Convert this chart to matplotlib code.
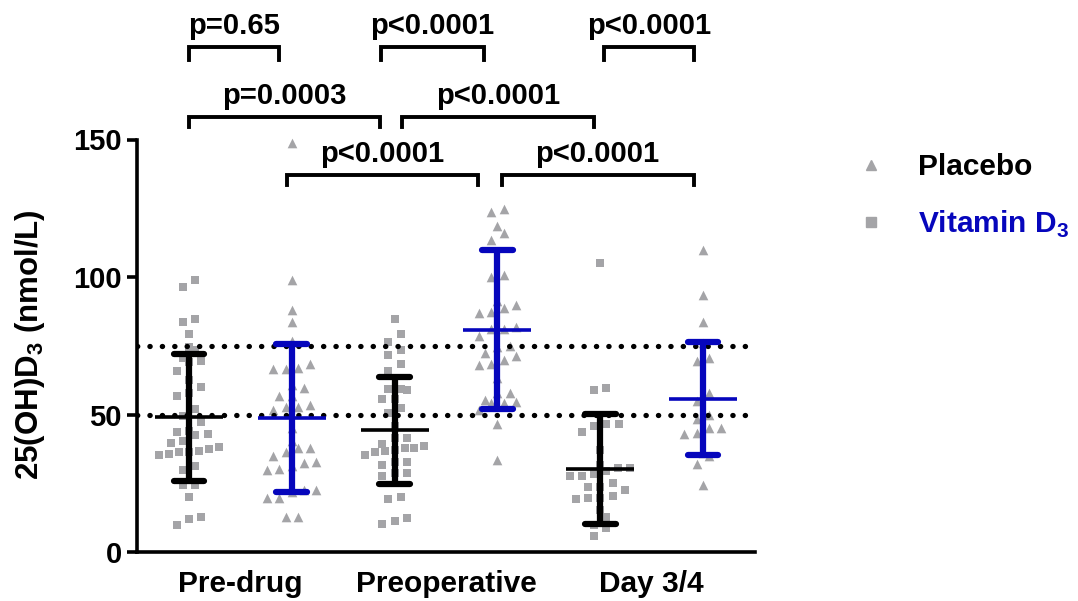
import numpy as np
import matplotlib
matplotlib.use("Agg")
import matplotlib.pyplot as plt
from matplotlib.lines import Line2D

plt.rcParams['font.family'] = ['Liberation Sans', 'DejaVu Sans']
plt.rcParams['font.weight'] = 'bold'
plt.rcParams['mathtext.fontset'] = 'custom'
plt.rcParams['mathtext.rm'] = 'Liberation Sans:bold'
plt.rcParams['mathtext.bf'] = 'Liberation Sans:bold'

# ---------------- data ----------------
timepoints = ["Pre-drug", "Preoperative", "Day 3/4"]
series_names = ["Placebo", r"Vitamin D$_\mathbf{3}$"]

predrug_placebo = [98.9, 96.2, 83.7, 84.9, 79.2, 74.7, 70.4, 69.1, 69.5, 73.4, 66.0,
                   62.4, 60.0, 56.9, 57.7, 52.1, 49.5, 47.2, 43.9, 43.0, 40.3, 39.7,
                   42.4, 43.7, 38.2, 36.9, 36.2, 35.8, 35.1, 36.2, 37.5, 31.1, 29.9,
                   24.5, 24.5, 20.0, 12.9, 9.9, 11.9]
predrug_vitd = [148.9, 99.0, 88.0, 83.8, 76.8, 66.8, 66.4, 66.4, 68.2, 60.6, 59.5,
                56.7, 56.7, 53.6, 52.7, 51.8, 52.7, 45.0, 40.3, 37.8, 35.0, 36.2,
                37.8, 32.4, 31.1, 32.6, 30.2, 29.9, 22.6, 22.6, 22.0, 19.8, 19.8,
                12.9, 12.9]
preop_placebo = [84.7, 79.4, 76.4, 73.5, 71.5, 68.5, 65.8, 59.1, 58.9, 59.1, 55.5,
                 55.5, 52.4, 50.4, 46.0, 41.5, 41.5, 39.1, 37.8, 37.2, 36.2, 36.6,
                 37.8, 38.4, 35.4, 32.6, 32.6, 31.5, 28.9, 28.9, 27.5, 20.0, 19.2,
                 12.3, 10.2, 11.1]
preop_vitd = [124.8, 123.6, 118.7, 116.0, 113.3, 100.1, 100.8, 91.1, 89.8, 87.1,
              86.9, 88.7, 81.9, 81.0, 81.0, 78.6, 74.9, 74.6, 72.2, 71.3, 69.7,
              67.9, 68.2, 63.4, 57.9, 55.2, 54.3, 57.9, 54.3, 54.6, 51.5, 46.6, 33.6]
day34_placebo = [105.0, 59.7, 58.8, 46.4, 43.5, 45.7, 46.4, 37.2, 31.8, 30.5, 28.5,
                 29.3, 30.5, 27.8, 27.8, 25.1, 23.8, 22.4, 23.5, 19.6, 19.2, 19.6,
                 20.5, 15.1, 12.9, 9.9, 8.6, 5.9]
day34_vitd = [109.9, 93.4, 83.7, 76.0, 70.7, 69.5, 57.7, 54.9, 50.0, 48.2, 45.1,
              43.3, 43.0, 45.1, 34.8, 36.0, 32.0, 24.2]

groups = [predrug_placebo, predrug_vitd, preop_placebo, preop_vitd,
          day34_placebo, day34_vitd]
group_means = [49.0, 48.6, 44.3, 80.8, 30.3, 55.8]
group_sds = [23.0, 26.9, 19.5, 28.9, 20.0, 20.5]
reference_lines = [50, 75]
yticks = [0, 50, 100, 150]

p_labels = ["p=0.65", "p<0.0001", "p<0.0001", "p=0.0003", "p<0.0001",
            "p<0.0001", "p<0.0001"]

# ---------------- styles ----------------
GREY = '#a4a4a7'
BLUE = '#0606bc'
BLACK = '#000000'
bar_colors = [BLACK, BLUE, BLACK, BLUE, BLACK, BLUE]
markers = ['s', '^', 's', '^', 's', '^']
msizes = {'s': 40, '^': 48}


def swarm_offsets(vals, binsize=3.6, spacing=0.12, maxhalf=0.29):
    vals = np.asarray(vals, float)
    order = np.argsort(vals)
    offs = np.zeros(len(vals))
    bins = []
    cur = []
    start = None
    for idx in order:
        v = vals[idx]
        if start is None or v - start > binsize:
            if cur:
                bins.append(cur)
            cur = [idx]
            start = v
        else:
            cur.append(idx)
    if cur:
        bins.append(cur)
    for b in bins:
        n = len(b)
        if n == 1:
            continue
        sp = min(spacing, 2 * maxhalf / (n - 1))
        pos = (np.arange(n) - (n - 1) / 2) * sp
        for k, idx in enumerate(b):
            offs[idx] = pos[k]
    return offs


fig = plt.figure(figsize=(10.78, 6.01), dpi=100)
ax = fig.add_axes([137 / 1078, 49 / 601, (755 - 137) / 1078, (552 - 139.5) / 601])
ax.set_xlim(-0.506, 5.506)
ax.set_ylim(0, 150)

for i, g in enumerate(groups):
    offs = swarm_offsets(g)
    ax.scatter(i + offs, g, marker=markers[i], s=msizes[markers[i]], color=GREY,
               linewidths=0, zorder=2, clip_on=False)

for yv in reference_lines:
    ax.axhline(yv, color=BLACK, lw=3.8, linestyle=(0, (0.05, 2.3)),
               dash_capstyle='round', zorder=3)

for i in range(len(groups)):
    m, s, c = group_means[i], group_sds[i], bar_colors[i]
    ax.plot([i, i], [m - s, m + s], color=c, lw=4.5, solid_capstyle='butt', zorder=4)
    for yy in (m - s, m + s):
        ax.plot([i - 0.15, i + 0.15], [yy, yy], color=c, lw=4.5,
                solid_capstyle='round', zorder=4)
    ax.plot([i - 0.33, i + 0.33], [m, m], color=c, lw=2.6,
            solid_capstyle='butt', zorder=4)

# significance brackets: (x_left, x_right, line_y, leg_bottom)
brackets = [(0.00, 0.875, 183.8, 179.0), (1.87, 2.87, 183.8, 179.0),
            (4.04, 4.91, 183.8, 179.0),
            (0.00, 1.86, 158.2, 154.6), (2.07, 3.94, 158.2, 154.6),
            (0.95, 2.81, 137.1, 133.5), (3.04, 4.91, 137.1, 133.5)]
for (x0, x1, y, yb), lab in zip(brackets, p_labels):
    ax.plot([x0, x0, x1, x1], [yb, y, y, yb], color=BLACK, lw=2.8,
            solid_joinstyle='miter', clip_on=False, zorder=5)
    ax.text((x0 + x1) / 2, y + 4.6, lab, ha='center', va='baseline',
            fontsize=21, fontweight='bold', clip_on=False)

for side in ('top', 'right'):
    ax.spines[side].set_visible(False)
for side in ('left', 'bottom'):
    ax.spines[side].set_linewidth(2.6)

ax.set_yticks(yticks)
ax.set_yticklabels([str(t) for t in yticks], fontsize=21, fontweight='bold')
ax.tick_params(axis='y', length=7, width=2.6, pad=4)
ax.set_xticks([0.5, 2.5, 4.5])
ax.set_xticklabels(timepoints, fontsize=21.5, fontweight='bold')
ax.tick_params(axis='x', length=0, pad=13)

fig.text(30 / 1078, 1 - 345 / 601, r"25(OH)D$_\mathbf{3}$ (nmol/L)", rotation=90,
         ha='center', va='center', fontsize=22.5, fontweight='bold')

# legend
leg_y = [165, 222]
leg_markers = ['^', 's']
leg_colors = [BLACK, BLUE]
for k in range(2):
    fig.add_artist(Line2D([871 / 1078], [1 - leg_y[k] / 601], marker=leg_markers[k],
                          markersize=7, color=GREY, linestyle='none',
                          transform=fig.transFigure))
    fig.text(918 / 1078, 1 - (leg_y[k] + 2) / 601, series_names[k], ha='left',
             va='center', fontsize=21.5, fontweight='bold', color=leg_colors[k])

fig.savefig("out.png", dpi=100)
